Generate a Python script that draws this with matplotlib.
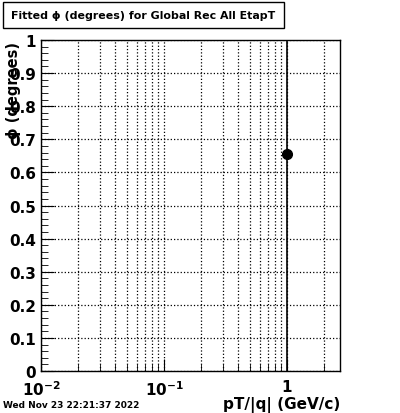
"""
Fitted phi vs pT/|q| (ROOT style canvas)
"""

import matplotlib
matplotlib.use('Agg')
import matplotlib.pyplot as plt
from matplotlib.ticker import LogLocator, MultipleLocator, FixedLocator, NullFormatter
import numpy as np

# Data
pt_values = [1.0]
phi_values = [0.655]
phi_err_low = [0.655]
phi_err_high = [0.345]

title_text = 'Fitted \u03d5 (degrees) for Global Rec All EtapT'
date_text = 'Wed Nov 23 22:21:37 2022'

plt.rcParams['font.family'] = ['DejaVu Sans']
plt.rcParams['font.weight'] = 'bold'

fig = plt.figure(figsize=(4.0, 4.14), dpi=100)
ax = fig.add_axes([0.1025, 0.1014, 0.7475, 0.7996])

# Point with error bar spanning the whole frame.
ax.errorbar(pt_values, phi_values, yerr=[phi_err_low, phi_err_high],
            fmt='o', color='black', markersize=7, elinewidth=1.2, capsize=0)

ax.set_xscale('log')
ax.set_xlim(0.01, 2.7)
ax.set_ylim(0, 1)

# Ticks.
ax.yaxis.set_major_locator(MultipleLocator(0.1))
ax.yaxis.set_minor_locator(MultipleLocator(0.02))
ax.xaxis.set_major_locator(FixedLocator([0.01, 0.1, 1]))
ax.xaxis.set_minor_locator(LogLocator(base=10, subs=np.arange(2, 10)))
ax.xaxis.set_minor_formatter(NullFormatter())
ax.set_xticklabels(['$\\mathbf{10^{-2}}$', '$\\mathbf{10^{-1}}$', '1'])
ax.set_yticks(np.arange(0, 1.01, 0.1))
ax.set_yticklabels(['0', '0.1', '0.2', '0.3', '0.4', '0.5', '0.6', '0.7',
                    '0.8', '0.9', '1'])

ax.tick_params(axis='both', which='both', direction='in', top=False,
               right=False, labelsize=11)
ax.tick_params(axis='y', which='major', length=9)
ax.tick_params(axis='y', which='minor', length=5)
ax.tick_params(axis='x', which='major', length=9, pad=6)
ax.tick_params(axis='x', which='minor', length=5)
for lab in ax.get_xticklabels() + ax.get_yticklabels():
    lab.set_fontweight('bold')

# Dotted grid.
ax.grid(True, which='major', axis='y', linestyle=':', color='black', linewidth=0.9)
ax.grid(True, which='both', axis='x', linestyle=':', color='black', linewidth=0.9)

for spine in ax.spines.values():
    spine.set_linewidth(1)

# Axis labels.
fig.text(0.85, 0.003, 'pT/|q| (GeV/c)', ha='right', va='bottom',
         fontsize=11, fontweight='bold')
fig.text(0.014, 0.898, '\u03d5 (degrees)', rotation=90, ha='left', va='top',
         fontsize=10.5, fontweight='bold')

# Date stamp.
fig.text(0.008, 0.01, date_text, ha='left', va='bottom', fontsize=6.5,
         fontweight='bold')

# Title box.
fig.text(0.028, 0.961, title_text, ha='left', va='center', fontsize=7.9,
         fontweight='bold',
         bbox=dict(boxstyle='square,pad=0.75', facecolor='white',
                   edgecolor='black', linewidth=1))

fig.savefig('out.png', dpi=100)
